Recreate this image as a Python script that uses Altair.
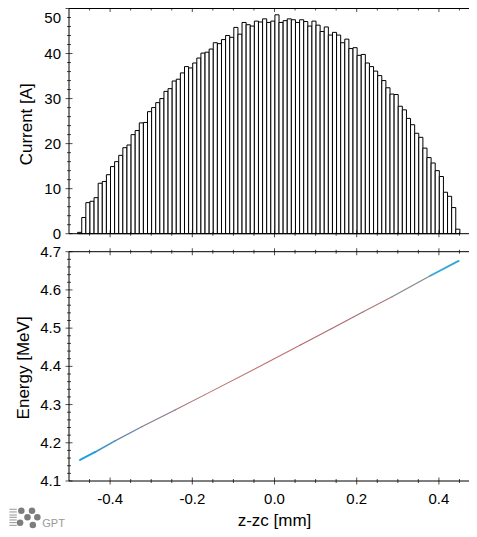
import altair as alt
import pandas as pd

FONT = "Liberation Sans"

bin_start = -0.479
bin_width = 0.01
currents = [0.3, 3.6, 6.9, 7.2, 8.0, 11.2, 11.6, 13.1, 14.9, 16.0, 17.4, 19.1, 19.7, 22.0,
            22.9, 24.6, 24.7, 27.1, 28.0, 29.1, 30.0, 31.6, 32.2, 33.9, 34.3, 35.7, 37.1, 36.8,
            37.9, 39.0, 40.1, 40.3, 41.0, 42.4, 42.2, 43.1, 44.0, 43.6, 45.8, 44.3, 46.9, 46.4,
            46.1, 47.2, 47.0, 47.7, 46.9, 47.2, 48.6, 46.9, 47.3, 47.7, 47.5, 46.9, 47.5, 47.1,
            46.1, 47.2, 46.3, 44.9, 45.9, 44.1, 44.7, 44.1, 42.4, 43.2, 41.1, 41.3, 39.6, 39.8,
            37.9, 37.1, 36.1, 35.1, 34.0, 32.4, 31.0, 30.9, 28.3, 27.5, 25.6, 24.2, 22.3, 21.4,
            19.0, 16.9, 15.7, 14.0, 12.7, 9.2, 8.3, 5.8, 1.0]

band_x = [-0.473, -0.436, -0.388, -0.323, -0.242, -0.169, -0.018, 0.063, 0.136, 0.216, 0.286, 0.379, 0.448]
band_y = [4.155, 4.176, 4.205, 4.242, 4.286, 4.326, 4.410, 4.456, 4.497, 4.543, 4.582, 4.637, 4.676]
band_color = ["#1f9fe6", "#3f96c4", "#6a86a8", "#8a7a90", "#a87478", "#c07472", "#c0706f",
              "#b06a6c", "#a86a70", "#a87a78", "#7f8c90", "#35a8d8"]
band_width = [2.0, 1.6, 1.3, 1.2, 1.1, 1.1, 1.1, 1.1, 1.1, 1.1, 1.3, 1.9]

x_major = [-0.4, -0.2, 0.0, 0.2, 0.4]
x_labels = ["-0.4", "-0.2", "0.0", "0.2", "0.4"]
x_minor = [-0.45, -0.35, -0.3, -0.25, -0.15, -0.1, -0.05, 0.05, 0.1, 0.15, 0.25, 0.3, 0.35, 0.45]
cur_major = [0, 10, 20, 30, 40, 50]
cur_labels = ["0", "10", "20", "30", "40"]
cur_minor = [2, 4, 6, 8, 12, 14, 16, 18, 22, 24, 26, 28, 32, 34, 36, 38, 42, 44, 46, 48]
en_major = [4.1, 4.2, 4.3, 4.4, 4.5, 4.6, 4.7]
en_labels = ["4.1", "4.2", "4.3", "4.4", "4.5", "4.6", "4.7"]
en_minor = [4.12, 4.14, 4.16, 4.18, 4.22, 4.24, 4.26, 4.28, 4.32, 4.34, 4.36, 4.38,
            4.42, 4.44, 4.46, 4.48, 4.52, 4.54, 4.56, 4.58, 4.62, 4.64, 4.66, 4.68]

logo_x = [-0.616, -0.590, -0.577, -0.601, -0.619, -0.588]
logo_y = [4.022, 4.022, 4.005, 4.005, 3.991, 3.985]
logo_line_y = [4.026, 4.019, 4.011, 4.005, 3.998, 3.991, 3.984]
logo_line_x0 = -0.645
logo_line_x1 = -0.627

XMIN = -0.5
XMAX = 0.4732
W = 400
H = 473
TOP_RANGE = [225.7, 0.5]
BOT_RANGE = [473, 243.7]

xs = alt.Scale(domain=[XMIN, XMAX], nice=False, zero=False)
ys1 = alt.Scale(domain=[0, 50], nice=False, range=TOP_RANGE)
ys2 = alt.Scale(domain=[4.1, 4.7], nice=False, zero=False, range=BOT_RANGE)

FS = 15
TITLE_FS = 17


def frame(yscale, ymin, ymax, y_major, y_minor):
    parts = []
    X = alt.X("x:Q", scale=xs, axis=None)
    Y = alt.Y("y:Q", scale=yscale, axis=None)
    for vals, size in [(x_major, 7), (x_minor, 4)]:
        rows = [{"x": v, "y": yy} for v in vals for yy in (ymin, ymax)]
        parts.append(alt.Chart(pd.DataFrame(rows)).mark_tick(orient="vertical", size=size, thickness=1, color="black", clip=False)
                     .encode(x=X, y=Y))
    for vals, size in [(y_major, 7), (y_minor, 4)]:
        rows = [{"x": XMIN, "y": v} for v in vals]
        parts.append(alt.Chart(pd.DataFrame(rows)).mark_tick(orient="horizontal", size=size, thickness=1, color="black", clip=False)
                     .encode(x=X, y=Y))
    h = pd.DataFrame({"x0": [XMIN, XMIN], "x1": [XMAX, XMAX], "y": [ymin, ymax]})
    parts.append(alt.Chart(h).mark_rule(color="black", strokeWidth=1).encode(
        x=alt.X("x0:Q", scale=xs, axis=None), x2="x1:Q", y=Y))
    v = pd.DataFrame({"x": [XMIN], "y0": [ymin], "y1": [ymax]})
    parts.append(alt.Chart(v).mark_rule(color="black", strokeWidth=1).encode(
        x=X, y=alt.Y("y0:Q", scale=yscale, axis=None), y2="y1:Q"))
    return parts


def text_layer(rows, yscale, **mark):
    kw = dict(fontSize=FS, font=FONT, color="black", clip=False)
    kw.update(mark)
    return alt.Chart(pd.DataFrame(rows)).mark_text(**kw).encode(
        x=alt.X("x:Q", scale=xs, axis=None),
        y=alt.Y("y:Q", scale=yscale, axis=None),
        text="t:N",
    )


hist = pd.DataFrame({
    "x0": [bin_start + i * bin_width for i in range(len(currents))],
    "x1": [bin_start + (i + 1) * bin_width for i in range(len(currents))],
    "base": [0] * len(currents),
    "current": currents,
})
bars = alt.Chart(hist).mark_rect(fill="white", stroke="black", strokeWidth=1).encode(
    x=alt.X("x0:Q", scale=xs, axis=None),
    x2="x1:Q",
    y=alt.Y("current:Q", scale=ys1, axis=None),
    y2="base:Q",
)
top = alt.layer(
    bars,
    *frame(ys1, 0, 50, cur_major, cur_minor),
    text_layer([{"x": XMIN, "y": v, "t": t} for v, t in zip(cur_major, cur_labels)], ys1,
               align="right", baseline="middle", dx=-8),
    text_layer([{"x": XMIN, "y": 50, "t": "50"}], ys1, align="right", baseline="top", dx=-8, dy=2),
    text_layer([{"x": -0.602, "y": 24.3, "t": "Current [A]"}], ys1, angle=270, align="center", baseline="middle",
               fontSize=TITLE_FS),
)

seg = pd.DataFrame({
    "x0": band_x[:-1], "x1": band_x[1:], "y0": band_y[:-1], "y1": band_y[1:],
    "c": band_color, "w": band_width,
})
band = alt.Chart(seg).mark_rule(strokeCap="round").encode(
    x=alt.X("x0:Q", scale=xs, axis=None),
    x2="x1:Q",
    y=alt.Y("y0:Q", scale=ys2, axis=None),
    y2="y1:Q",
    color=alt.Color("c:N", scale=None),
    size=alt.Size("w:Q", scale=None),
)

logo_pts = alt.Chart(pd.DataFrame({"x": logo_x, "y": logo_y})).mark_circle(size=43, color="#7d7d7d", opacity=1, clip=False).encode(
    x=alt.X("x:Q", scale=xs, axis=None), y=alt.Y("y:Q", scale=ys2, axis=None))
logo_lines = alt.Chart(pd.DataFrame({"x0": logo_line_x0, "x1": logo_line_x1, "y": logo_line_y})).mark_rule(
    color="#8a8a8a", strokeWidth=0.9, clip=False).encode(
    x=alt.X("x0:Q", scale=xs, axis=None), x2="x1:Q", y=alt.Y("y:Q", scale=ys2, axis=None))

bottom = alt.layer(
    band,
    *frame(ys2, 4.1, 4.7, en_major, en_minor),
    logo_lines,
    logo_pts,
    text_layer([{"x": XMIN, "y": v, "t": t} for v, t in zip(en_major, en_labels)], ys2,
               align="right", baseline="middle", dx=-8),
    text_layer([{"x": v, "y": 4.1, "t": t} for v, t in zip(x_major, x_labels)], ys2,
               align="center", baseline="middle", dy=18),
    text_layer([{"x": 0.0, "y": 4.1, "t": "z-zc [mm]"}], ys2, align="center", baseline="middle", dy=40, fontSize=TITLE_FS),
    text_layer([{"x": -0.609, "y": 4.396, "t": "Energy [MeV]"}], ys2, angle=270, align="center", baseline="middle",
               fontSize=TITLE_FS),
    text_layer([{"x": -0.565, "y": 3.980, "t": "GPT"}], ys2, align="left", baseline="alphabetic", fontSize=11, color="#999999"),
)

chart = alt.layer(top, bottom).resolve_scale(y="independent").properties(
    width=W, height=H,
    padding={"left": 61, "top": 0, "right": 0, "bottom": 48},
    autosize=alt.AutoSizeParams(type="none"),
    background="white",
).configure_view(stroke=None)

chart.save("out.html", embed_options={"renderer": "svg", "actions": False})
